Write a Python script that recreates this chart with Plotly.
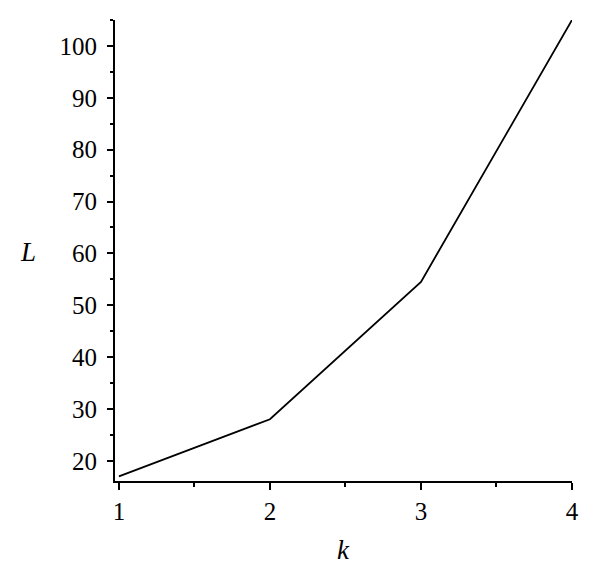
import plotly.graph_objects as go

k = [1, 2, 3, 4]
L = [17, 28, 54.5, 105]
x_ticks = [1, 2, 3, 4]
y_ticks = [20, 30, 40, 50, 60, 70, 80, 90, 100]

font = dict(family="Liberation Serif, DejaVu Serif, serif", size=25, color="black")

fig = go.Figure(go.Scatter(x=k, y=L, mode="lines", line=dict(color="black", width=1.8)))

# page body has an 8px default margin, so the figure is 8px smaller
fig.update_layout(
    width=592, height=578,
    margin=dict(l=107, r=28, t=12, b=105),
    paper_bgcolor="white", plot_bgcolor="white",
    showlegend=False, font=font,
)
fig.update_xaxes(
    range=[0.974, 4], tickvals=x_ticks, showgrid=False, zeroline=False,
    showline=True, linecolor="black", linewidth=1.8,
    ticks="outside", ticklen=7, tickwidth=1.5, tickcolor="black",
    minor=dict(dtick=0.5, tick0=0, ticks="outside", ticklen=4, tickwidth=1.5, tickcolor="black", showgrid=False),
    tickfont=font,
)
fig.update_yaxes(
    range=[16.1, 105], tickvals=y_ticks, showgrid=False, zeroline=False,
    showline=True, linecolor="black", linewidth=1.8,
    ticks="outside", ticklen=6, tickwidth=1.5, tickcolor="black",
    minor=dict(dtick=5, tick0=0, ticks="outside", ticklen=3, tickwidth=1.5, tickcolor="black", showgrid=False),
    tickfont=font, ticklabelstandoff=5,
)
fig.add_annotation(text="<i>k</i>", xref="paper", yref="paper", x=0.499, y=-0.15,
                   xanchor="center", yanchor="middle",
                   showarrow=False, font=dict(family=font["family"], size=27, color="black"))
fig.add_annotation(text="<i>L</i>", xref="paper", yref="paper", x=-0.19, y=0.497,
                   xanchor="center", yanchor="middle",
                   showarrow=False, font=dict(family=font["family"], size=27, color="black"))

fig.write_html("out.html")
